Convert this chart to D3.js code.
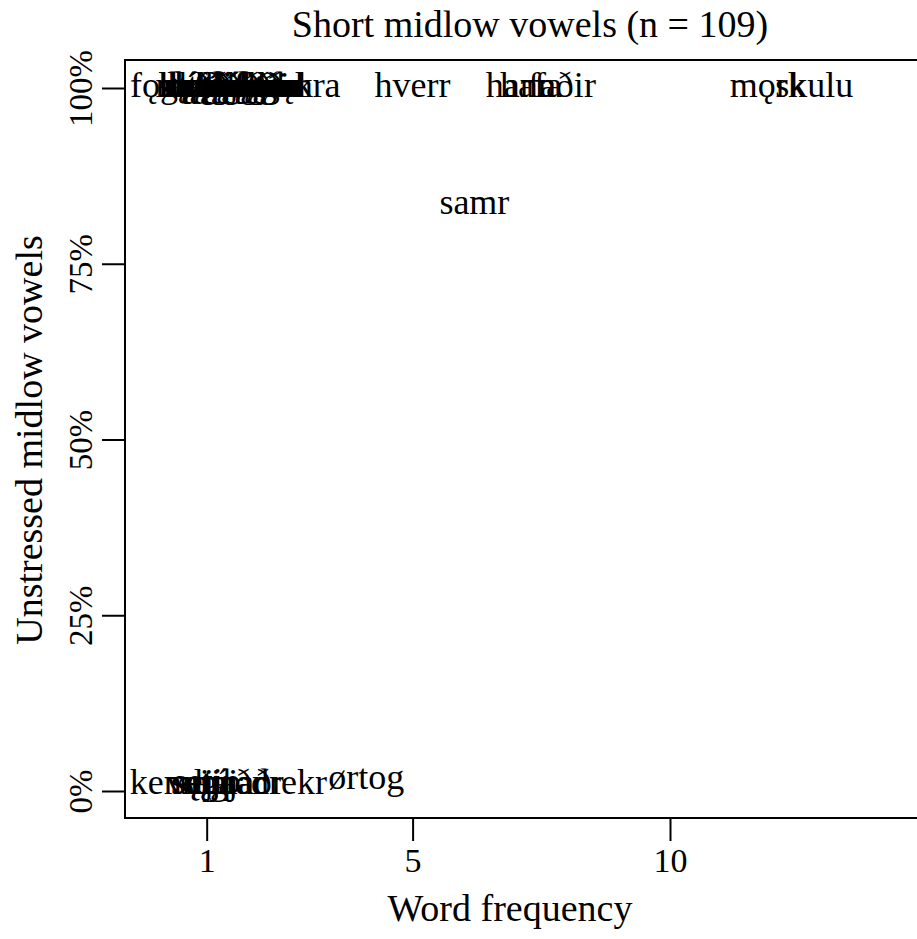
<!DOCTYPE html>
<html>
<head>
<meta charset="utf-8">
<script src="https://cdn.jsdelivr.net/npm/d3@7"></script>
<style>
  html, body { margin: 0; padding: 0; background: #ffffff; }
  svg text { font-family: "Liberation Serif", "DejaVu Serif", serif; fill: #000; }
</style>
</head>
<body>
<div id="chart"></div>
<script>
// Word labels placed by frequency and share of unstressed midlow vowels
const words = [
  "fǫgnuðum", "hǫfðu", "sętrum", "bœkr", "kvęðja", "kǫllum", "ǽttir", "męgin",
  "stǫðvar", "ǫðrum", "gęfit", "brǿðrum", "bęrgi", "vętr", "sǫgðu", "fęðr",
  "dǿmdu", "mǫnnum", "hęrbergi", "ǫxar", "vęrðr", "gǫtu", "tęknar", "sęndu",
  "hǫndum", "ęldr", "fǿrðu", "ǫllum", "lęggja", "mǫl", "akra",
  "hverr", "samr", "hann", "hafa", "faðir", "mǫrk", "skulu",
  "kennimaðr", "sętja", "setiþ", "vęgna", "ljá", "sęgja", "maðr", "drekr", "ørtog"
];
const freq = [
  0.95, 0.9, 1.0, 1.0, 1.0, 1.05, 1.1, 1.1,
  1.2, 1.3, 1.5, 1.6, 1.9, 1.8, 2.0, 2.1,
  1.15, 1.25, 1.4, 1.45, 1.55, 1.7, 1.75, 1.35,
  1.6, 2.2, 1.85, 2.25, 1.65, 2.4, 3.0,
  5.0, 6.2, 7.1, 7.3, 7.9, 11.9, 12.8,
  1.0, 0.95, 1.0, 1.05, 1.1, 1.2, 1.4, 2.6, 4.1
];
const share = [
  1, 1, 1, 1, 1, 1, 1, 1,
  1, 1, 1, 1, 1, 1, 1, 1,
  1, 1, 1, 1, 1, 1, 1, 1,
  1, 1, 1, 1, 1, 1, 1,
  1, 0.833, 1, 1, 1, 1, 1,
  0.008, 0.008, 0.01, 0.008, 0.008, 0.008, 0.008, 0.008, 0.015
];

const xTicks = [1, 5, 10];
const yTicks = [0, 0.25, 0.5, 0.75, 1];

const width = 917, height = 939;
const frame = { left: 125, top: 60, right: 935, bottom: 818 };

const x = d3.scaleLinear().domain([0, 10]).range([155.2, 670]);
const y = d3.scaleLinear().domain([0, 1]).range([791, 88]);

const svg = d3.select("#chart").append("svg")
  .attr("width", width)
  .attr("height", height);

// plot frame
svg.append("rect")
  .attr("x", frame.left)
  .attr("y", frame.top)
  .attr("width", frame.right - frame.left)
  .attr("height", frame.bottom - frame.top)
  .attr("fill", "none")
  .attr("stroke", "#000")
  .attr("stroke-width", 2);

// x axis
const xAxis = svg.append("g")
  .attr("transform", `translate(0,${frame.bottom})`)
  .call(d3.axisBottom(x).tickValues(xTicks).tickSize(23).tickPadding(7).tickFormat(d3.format("d")));
xAxis.select(".domain").remove();
xAxis.selectAll("line").attr("stroke", "#000").attr("stroke-width", 2);
xAxis.selectAll("text").attr("font-size", 34).attr("font-family", "Liberation Serif");

// y axis, labels rotated like R's default las = 0
const yAxis = svg.append("g")
  .attr("transform", `translate(${frame.left},0)`)
  .call(d3.axisLeft(y).tickValues(yTicks).tickSize(23).tickFormat(d3.format(".0%")));
yAxis.select(".domain").remove();
yAxis.selectAll("line").attr("stroke", "#000").attr("stroke-width", 2);
yAxis.selectAll("text")
  .attr("font-size", 33)
  .attr("font-family", "Liberation Serif")
  .attr("text-anchor", "middle")
  .attr("x", null)
  .attr("dy", null)
  .attr("transform", "translate(-33,0) rotate(-90)");

// word labels
svg.append("g")
  .selectAll("text")
  .data(words.map((w, i) => ({ w, f: freq[i], s: share[i] })))
  .join("text")
  .attr("x", d => x(d.f))
  .attr("y", d => y(d.s))
  .attr("dy", "0.25em")
  .attr("text-anchor", "middle")
  .attr("font-size", 36)
  .text(d => d.w);

// title and axis titles
svg.append("text")
  .attr("x", 530)
  .attr("y", 37)
  .attr("text-anchor", "middle")
  .attr("font-size", 38)
  .text("Short midlow vowels (n = 109)");

svg.append("text")
  .attr("x", 510)
  .attr("y", 921)
  .attr("text-anchor", "middle")
  .attr("font-size", 38)
  .text("Word frequency");

svg.append("text")
  .attr("transform", "translate(42,440) rotate(-90)")
  .attr("text-anchor", "middle")
  .attr("font-size", 38)
  .text("Unstressed midlow vowels");
</script>
</body>
</html>
